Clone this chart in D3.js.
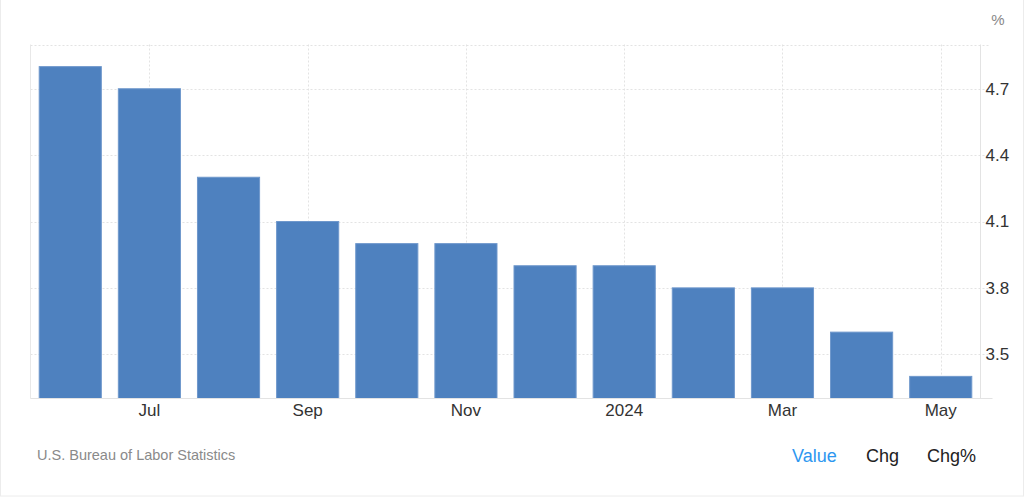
<!DOCTYPE html>
<html>
<head>
<meta charset="utf-8">
<script src="https://cdn.jsdelivr.net/npm/d3@7"></script>
<style>
  body { margin: 0; background: #fff; }
  svg { display: block; font-family: "Liberation Sans", Arial, sans-serif; }
  .grid line { stroke: #e3e3e3; stroke-dasharray: 2,2; }
  .tick text { fill: #333; font-size: 17px; }
</style>
</head>
<body>
<svg id="chart"></svg>
<script>
'use strict'

// monthly values, Jun 2023 -> May 2024
const months = ['2023-06', '2023-07', '2023-08', '2023-09', '2023-10', '2023-11',
                '2023-12', '2024-01', '2024-02', '2024-03', '2024-04', '2024-05']
const values = [4.8, 4.7, 4.3, 4.1, 4.0, 4.0, 3.9, 3.9, 3.8, 3.8, 3.6, 3.4]
const xTickMonths = ['2023-07', '2023-09', '2023-11', '2024-01', '2024-03', '2024-05']
const xTickLabels = ['Jul', 'Sep', 'Nov', '2024', 'Mar', 'May']
const yTicks = [3.5, 3.8, 4.1, 4.4, 4.7]
const buttons = ['Value', 'Chg', 'Chg%']

const width = 1024, height = 497
const plot = {left: 30.5, right: 980.5, top: 44.5, bottom: 398.5}

const svg = d3.select('#chart').attr('width', width).attr('height', height)

// faint card border
svg.append('rect')
  .attr('x', 0.5).attr('y', -1).attr('width', width - 1).attr('height', height)
  .attr('fill', 'none').attr('stroke', '#ececec')

const x = d3.scaleBand().domain(months).range([plot.left, plot.right])
  .paddingInner(0.215).paddingOuter(0.11)
const y = d3.scaleLinear().domain([3.3, 4.9]).range([plot.bottom, plot.top])

// grid
const grid = svg.append('g').classed('grid', true)
grid.selectAll('line.h')
  .data(yTicks.concat([4.9]))
  .enter().append('line')
  .attr('x1', plot.left).attr('x2', plot.right + 10)
  .attr('y1', d => Math.round(y(d)) + 0.5).attr('y2', d => Math.round(y(d)) + 0.5)
grid.selectAll('line.v')
  .data(xTickMonths)
  .enter().append('line')
  .attr('x1', d => Math.round(x(d) + x.bandwidth() / 2) + 0.5)
  .attr('x2', d => Math.round(x(d) + x.bandwidth() / 2) + 0.5)
  .attr('y1', plot.top).attr('y2', plot.bottom)

// frame lines
svg.append('line').attr('x1', plot.left).attr('x2', plot.left)
  .attr('y1', plot.top).attr('y2', plot.bottom).attr('stroke', '#e8e8e8')
svg.append('line').attr('x1', plot.right).attr('x2', plot.right)
  .attr('y1', plot.top).attr('y2', plot.bottom).attr('stroke', '#e3e3e3')

// bars
svg.append('g').selectAll('rect')
  .data(values)
  .enter().append('rect')
  .attr('x', (d, i) => x(months[i]))
  .attr('y', d => y(d))
  .attr('width', x.bandwidth())
  .attr('height', d => plot.bottom - y(d))
  .attr('fill', '#4e81bf')
  .attr('stroke', '#6f98cc')
  .attr('stroke-width', 1)

// baseline
svg.append('line').attr('x1', plot.left).attr('x2', plot.right + 12)
  .attr('y1', plot.bottom).attr('y2', plot.bottom).attr('stroke', '#e3e3e3')

// x axis
const xAxis = svg.append('g')
  .attr('transform', 'translate(0,' + plot.bottom + ')')
  .call(d3.axisBottom(x).tickValues(xTickMonths)
    .tickFormat(d => xTickLabels[xTickMonths.indexOf(d)]).tickSize(0).tickPadding(5))
xAxis.select('.domain').remove()
xAxis.selectAll('text').attr('dy', '0.71em')

// y axis (right)
const yAxis = svg.append('g')
  .attr('transform', 'translate(' + (plot.right + 5) + ',0)')
  .call(d3.axisRight(y).tickValues(yTicks).tickFormat(d3.format('.1f')).tickSize(0).tickPadding(0))
yAxis.select('.domain').remove()

svg.append('text')
  .attr('x', 998).attr('y', 25)
  .attr('text-anchor', 'middle')
  .attr('fill', '#888').attr('font-size', 15)
  .text('%')

// footer
svg.append('text')
  .attr('x', 37).attr('y', 460)
  .attr('fill', '#8a8a8a').attr('font-size', 14.5)
  .text('U.S. Bureau of Labor Statistics')

const btnX = [792, 866, 927]
svg.append('g').selectAll('text')
  .data(buttons)
  .enter().append('text')
  .attr('x', (d, i) => btnX[i]).attr('y', 462)
  .attr('fill', (d, i) => i === 0 ? '#2d97f0' : '#222')
  .attr('font-size', 18)
  .text(d => d)
</script>
</body>
</html>
